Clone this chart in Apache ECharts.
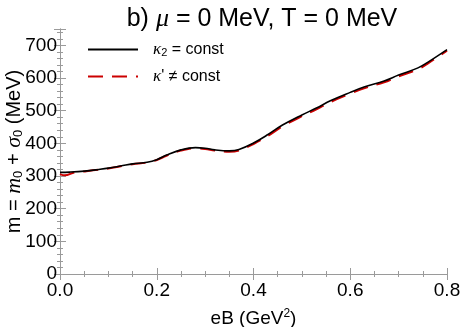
<!DOCTYPE html>
<html>
<head>
<meta charset="utf-8">
<script src="https://cdn.jsdelivr.net/npm/echarts@6/dist/echarts.min.js"></script>
<style>
  html, body { margin: 0; padding: 0; background: #fff; }
  #chart { width: 463px; height: 327px; }
</style>
</head>
<body>
<div id="chart"></div>
<script>
// eB values (GeV^2)
const eB = [0.00, 0.02, 0.05, 0.08, 0.10, 0.13, 0.15, 0.18, 0.20, 0.22, 0.25, 0.28, 0.30, 0.32, 0.35, 0.37,
            0.40, 0.43, 0.46, 0.50, 0.53, 0.56, 0.60, 0.63, 0.67, 0.70, 0.74, 0.76, 0.80];
// kappa_2 = const
const mConst = [311, 312, 315, 320, 324, 332, 337, 342, 350, 364, 380, 387, 385, 380, 377, 381,
                401, 427, 456, 487, 508, 531, 556, 573, 591, 609, 631, 648, 687];
// kappa' != const
const eBVar = [0.00, 0.01, 0.03, 0.05, 0.08, 0.10, 0.13, 0.15, 0.18, 0.20, 0.22, 0.25, 0.28, 0.30, 0.32, 0.35, 0.37,
               0.40, 0.43, 0.46, 0.50, 0.53, 0.56, 0.60, 0.63, 0.67, 0.70, 0.74, 0.76, 0.80];
const mVar = [306, 302, 311, 314, 319, 323, 331, 336, 341, 349, 362, 378, 385, 383, 378, 374, 378,
              398, 423, 452, 483, 504, 527, 552, 569, 587, 605, 627, 644, 684];

const xTicks = { min: 0, max: 0.8, interval: 0.2 };
const yTicks = { min: 0, max: 750, interval: 100 };

const font = 'Liberation Sans, Arial, sans-serif';
const ital = 'Liberation Serif, Times New Roman, serif';
const frame = '#9a9a9a';

const chart = echarts.init(document.getElementById('chart'));

function axisCommon(showLabels) {
  return {
    axisLine: { show: true, lineStyle: { color: frame, width: 1 } },
    axisTick: { show: true, inside: true, length: 6, lineStyle: { color: frame } },
    minorTick: { show: true, length: 3, lineStyle: { color: frame } },
    splitLine: { show: false },
    axisLabel: { show: showLabels }
  };
}

const option = {
  animation: false,
  backgroundColor: '#fff',
  title: {
    text: '{a|b) }{i|μ}{a| = 0 MeV, T = 0 MeV}',
    left: 257,
    textAlign: 'center',
    top: 1,
    textStyle: {
      fontWeight: 'normal',
      rich: {
        a: { fontFamily: font, fontSize: 25, fontWeight: 'normal', color: '#000' },
        i: { fontFamily: ital, fontStyle: 'italic', fontSize: 26, fontWeight: 'normal', color: '#000' }
      }
    }
  },
  grid: { left: 60, right: 16, top: 29, bottom: 53, containLabel: false, outerBoundsMode: 'none' },
  legend: {
    orient: 'vertical',
    left: 82,
    top: 36,
    itemWidth: 50,
    itemHeight: 12,
    itemGap: 10,
    itemStyle: { opacity: 0 },
    data: ['k2', 'kp'],
    formatter: function (name) {
      return name === 'k2' ? '{i|κ}{s|2}{t| = const}' : '{i|κ}{t|\' ≠ const}';
    },
    textStyle: {
      padding: [0, 0, 0, 10],
      rich: {
        i: { fontFamily: ital, fontStyle: 'italic', fontSize: 17, color: '#000' },
        s: { fontFamily: font, fontSize: 11, color: '#000', verticalAlign: 'bottom', padding: [6, 0, 0, 0] },
        t: { fontFamily: font, fontSize: 16, color: '#000' }
      }
    }
  },
  xAxis: [
    Object.assign(axisCommon(true), {
      type: 'value', position: 'bottom',
      min: xTicks.min, max: xTicks.max, interval: xTicks.interval,
      minorTick: { show: true, length: 3, splitNumber: 4, lineStyle: { color: frame } },
      axisLabel: {
        show: true, margin: 7, color: '#000', fontFamily: font, fontSize: 19,
        formatter: function (v) { return v.toFixed(1); }
      },
      name: '{t|eB (GeV}{s|2}{t|)}',
      nameLocation: 'middle',
      nameGap: 34,
      nameMoveOverlap: false,
      nameTextStyle: {
        rich: {
          t: { fontFamily: font, fontSize: 19, color: '#000' },
          s: { fontFamily: font, fontSize: 12, color: '#000', padding: [0, 0, 9, 0] }
        }
      }
    }),
    Object.assign(axisCommon(false), {
      type: 'value', position: 'top',
      min: xTicks.min, max: xTicks.max, interval: xTicks.interval,
      minorTick: { show: true, length: 3, splitNumber: 4, lineStyle: { color: frame } }
    })
  ],
  yAxis: [
    Object.assign(axisCommon(true), {
      type: 'value', position: 'left',
      min: yTicks.min, max: yTicks.max, interval: yTicks.interval,
      minorTick: { show: true, length: 3, splitNumber: 5, lineStyle: { color: frame } },
      axisLabel: {
        show: true, margin: 3, color: '#000', fontFamily: font, fontSize: 19,
        showMaxLabel: false
      },
      name: '{t|m = }{i|m}{s|0}{t| + }{i|σ}{s|0}{t| (MeV)}',
      nameLocation: 'middle',
      nameGap: 35,
      nameRotate: 90,
      nameMoveOverlap: false,
      nameTextStyle: {
        rich: {
          t: { fontFamily: font, fontSize: 20, color: '#000' },
          i: { fontFamily: ital, fontStyle: 'italic', fontSize: 22, color: '#000' },
          s: { fontFamily: font, fontSize: 13, color: '#000', padding: [8, 0, 0, 0] }
        }
      }
    }),
    Object.assign(axisCommon(false), {
      type: 'value', position: 'right',
      min: yTicks.min, max: yTicks.max, interval: yTicks.interval,
      minorTick: { show: true, length: 3, splitNumber: 5, lineStyle: { color: frame } }
    })
  ],
  series: [
    {
      name: 'k2',
      type: 'line',
      smooth: 0.4,
      showSymbol: false,
      symbol: 'none',
      z: 3,
      color: '#000',
      lineStyle: { color: '#000', width: 1.6 },
      data: eB.map((x, i) => [x, mConst[i]])
    },
    {
      name: 'kp',
      type: 'line',
      smooth: 0.4,
      showSymbol: false,
      symbol: 'none',
      z: 2,
      color: '#cc0000',
      lineStyle: { color: '#cc0000', width: 2, type: [15, 9] },
      data: eBVar.map((x, i) => [x, mVar[i]])
    }
  ]
};

chart.setOption(option);
</script>
</body>
</html>
